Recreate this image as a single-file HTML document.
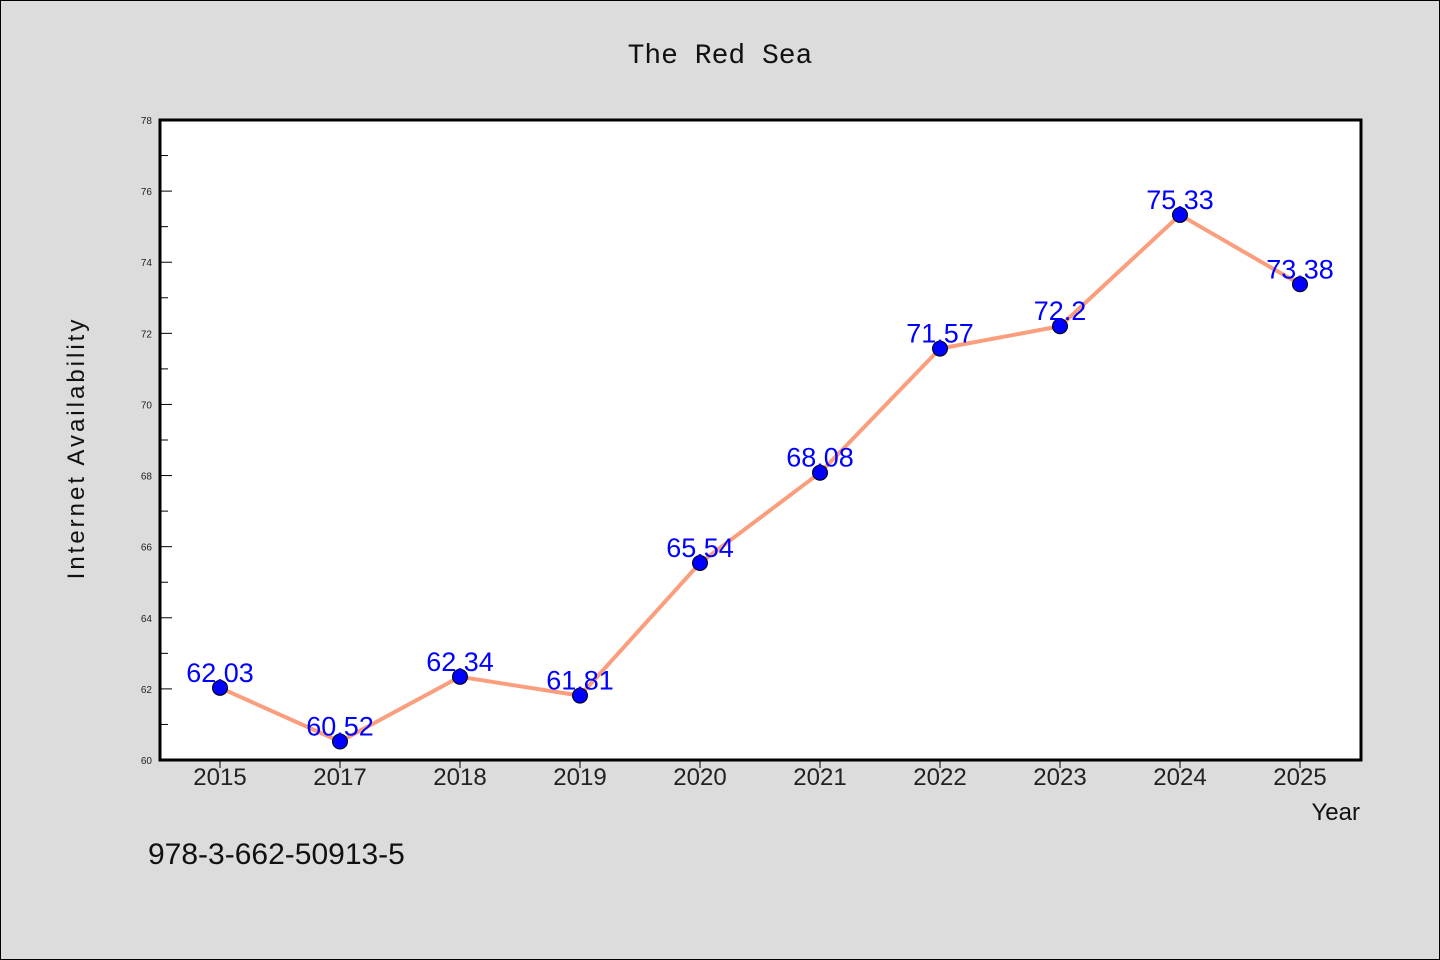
<!DOCTYPE html>
<html><head><meta charset="utf-8"><style>
body{margin:0;background:#dcdcdc;}
svg{display:block;font-family:"Liberation Sans","WenQuanYi Zen Hei",sans-serif;}
</style></head><body>
<svg width="1440" height="960">
<rect x="0.5" y="0.5" width="1439" height="959" fill="#dcdcdc" stroke="#000"/>
<text x="720" y="63" font-size="28" text-anchor="middle" fill="#111" font-family="'WenQuanYi Zen Hei','Liberation Mono',monospace">The Red Sea</text>
<rect x="160" y="120" width="1201" height="640" fill="#fff"/>
<g id="ticks"></g>
<g id="marks"></g>
<rect x="160" y="120" width="1201" height="640" fill="none" stroke="#000" stroke-width="3"/>
<text transform="translate(84,448) rotate(-90)" font-size="24" text-anchor="middle" fill="#111" letter-spacing="3">Internet Availability</text>
<text x="1360" y="820" font-size="24" text-anchor="end" fill="#111">Year</text>
<text x="148" y="864" font-size="30" fill="#111">978-3-662-50913-5</text>
</svg>
<script>
const categories=["2015","2017","2018","2019","2020","2021","2022","2023","2024","2025"];
const values=[62.03,60.52,62.34,61.81,65.54,68.08,71.57,72.2,75.33,73.38];
const labels=["62.03","60.52","62.34","61.81","65.54","68.08","71.57","72.2","75.33","73.38"];
const yTicks=[60,62,64,66,68,70,72,74,76,78];
const NS="http://www.w3.org/2000/svg";
const x0=160,x1=1361,y0=120,y1=760,ymin=60,ymax=78;
const X=i=>220+i*120;
const Y=v=>y1-(v-ymin)/(ymax-ymin)*(y1-y0);
function mk(t,a,p){const e=document.createElementNS(NS,t);for(const k in a)e.setAttribute(k,a[k]);p.appendChild(e);return e;}
const tg=document.getElementById('ticks'),mg=document.getElementById('marks');
yTicks.forEach((v,i)=>{
 const l=mk('line',{x1:x0,x2:x0+12,y1:Y(v),y2:Y(v),stroke:'#000','stroke-width':1},tg);
 
 
 const t=mk('text',{x:x0-8,y:Y(v)+4,'font-size':10,'text-anchor':'end',fill:'#222'},tg);
 t.textContent=v;
 
 
 if(i<yTicks.length-1){
  const m=mk('line',{x1:x0,x2:x0+8,y1:Y(v+1),y2:Y(v+1),stroke:'#000','stroke-width':1},tg);
  
  
 }
});
categories.forEach((c,i)=>{
 const l=mk('line',{x1:X(i),x2:X(i),y1:y1,y2:y1+8,stroke:'#000','stroke-width':1},tg);
 
 
 const t=mk('text',{x:X(i),y:785,'font-size':24,'text-anchor':'middle',fill:'#222'},tg);
 t.textContent=c;
 
 
});
const pl=mk('polyline',{points:values.map((v,i)=>X(i)+','+Y(v)).join(' '),fill:'none',stroke:'#fa9e7e','stroke-width':4,'stroke-linejoin':'round'},mg);


values.forEach((v,i)=>{
 const c=mk('circle',{cx:X(i),cy:Y(v),r:7.5,fill:'#0000ff',stroke:'#000','stroke-width':1},mg);
 
 
});
values.forEach((v,i)=>{
 const t=mk('text',{x:X(i),y:Y(v)-6,'font-size':27,'text-anchor':'middle',fill:'#0000ff'},mg);
 t.textContent=labels[i];
 
 
});
</script>
</body></html>
